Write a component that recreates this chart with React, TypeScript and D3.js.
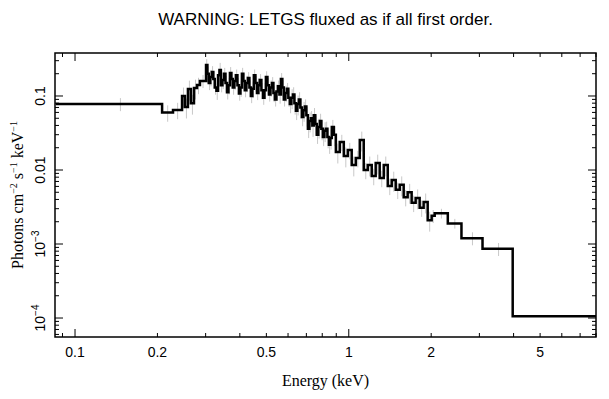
import React from "react";
import * as d3 from "d3";

// Bin edges (keV) and fluxed values (photons cm^-2 s^-1 keV^-1)
const binEdges = [
  0.085, 0.208, 0.228, 0.246, 0.252, 0.2585, 0.265, 0.272, 0.279, 0.286,
  0.301, 0.3045, 0.308, 0.312, 0.316, 0.32, 0.324, 0.3285, 0.333, 0.337,
  0.341, 0.3455, 0.35, 0.3545, 0.359, 0.3635, 0.368, 0.3725, 0.377, 0.382,
  0.387, 0.392, 0.397, 0.402, 0.407, 0.412, 0.417, 0.4225, 0.428, 0.4335,
  0.439, 0.4445, 0.45, 0.456, 0.462, 0.4675, 0.473, 0.4795, 0.486, 0.492,
  0.498, 0.5045, 0.511, 0.5175, 0.524, 0.5305, 0.537, 0.544, 0.551, 0.558,
  0.565, 0.572, 0.579, 0.5865, 0.594, 0.6015, 0.609, 0.617, 0.625, 0.633,
  0.641, 0.649, 0.657, 0.6655, 0.674, 0.6825, 0.691, 0.7, 0.709, 0.718,
  0.727, 0.736, 0.745, 0.7545, 0.764, 0.774, 0.784, 0.794, 0.804, 0.8145,
  0.825, 0.8355, 0.846, 0.8565, 0.867, 0.882, 0.897, 0.927, 0.959, 0.992,
  1.025, 1.061, 1.097, 1.134, 1.173, 1.213, 1.254, 1.297, 1.342, 1.388,
  1.435, 1.484, 1.535, 1.587, 1.641, 1.697, 1.755, 1.815, 1.877, 1.942,
  2.008, 2.06, 2.3, 2.58, 3.08, 3.97, 8.0,
];

const flux = [
  0.078, 0.0598, 0.0647, 0.1, 0.071, 0.124, 0.08, 0.128, 0.141, 0.16,
  0.262, 0.2, 0.15, 0.18, 0.211, 0.17, 0.13, 0.118, 0.19, 0.224,
  0.14, 0.165, 0.2, 0.15, 0.112, 0.14, 0.205, 0.17, 0.13, 0.16,
  0.19, 0.14, 0.108, 0.13, 0.2, 0.16, 0.12, 0.15, 0.175, 0.13,
  0.1, 0.125, 0.19, 0.15, 0.11, 0.14, 0.165, 0.12, 0.095, 0.12,
  0.18, 0.14, 0.105, 0.13, 0.15, 0.11, 0.09, 0.115, 0.135, 0.105,
  0.17, 0.13, 0.09, 0.11, 0.125, 0.095, 0.078, 0.095, 0.105, 0.08,
  0.063, 0.078, 0.09, 0.07, 0.052, 0.064, 0.072, 0.055, 0.036, 0.046,
  0.05, 0.04, 0.055, 0.042, 0.03, 0.038, 0.046, 0.036, 0.028, 0.034,
  0.036, 0.028, 0.022, 0.027, 0.038, 0.03, 0.0175, 0.0239, 0.0155, 0.0186,
  0.0117, 0.0145, 0.0254, 0.01, 0.0117, 0.0083, 0.0124, 0.0078, 0.0117, 0.0061,
  0.0073, 0.0054, 0.0063, 0.0043, 0.005, 0.0036, 0.0042, 0.0031, 0.0037, 0.0021,
  0.0024, 0.0026, 0.0019, 0.0012, 0.00086, 0.000106,
];

const relErr = [
  0.2, 0.25, 0.25, 0.3, 0.3, 0.3, 0.3, 0.3, 0.25, 0.2,
  0.2, 0.25, 0.2, 0.25, 0.2, 0.25, 0.2, 0.25, 0.2, 0.25,
  0.2, 0.25, 0.2, 0.25, 0.2, 0.25, 0.2, 0.25, 0.2, 0.25,
  0.2, 0.25, 0.2, 0.25, 0.2, 0.25, 0.2, 0.25, 0.2, 0.25,
  0.2, 0.25, 0.2, 0.25, 0.2, 0.25, 0.2, 0.25, 0.2, 0.25,
  0.2, 0.25, 0.2, 0.25, 0.2, 0.25, 0.2, 0.25, 0.2, 0.25,
  0.2, 0.25, 0.2, 0.25, 0.2, 0.25, 0.25, 0.3, 0.25, 0.3,
  0.25, 0.3, 0.25, 0.3, 0.25, 0.3, 0.25, 0.3, 0.25, 0.3,
  0.25, 0.3, 0.25, 0.3, 0.25, 0.3, 0.25, 0.3, 0.25, 0.3,
  0.25, 0.3, 0.25, 0.3, 0.25, 0.3, 0.3, 0.25, 0.3, 0.25,
  0.3, 0.25, 0.3, 0.25, 0.3, 0.25, 0.3, 0.25, 0.3, 0.25,
  0.3, 0.25, 0.3, 0.25, 0.3, 0.25, 0.3, 0.25, 0.3, 0.3,
  0.2, 0.15, 0.15, 0.2, 0.2, 0,
];

const xTickValues = [0.1, 0.2, 0.5, 1, 2, 5];
const xTickLabels = ["0.1", "0.2", "0.5", "1", "2", "5"];
const yTickValues = [0.1, 0.01, 0.001, 0.0001];
const yTickBase = ["0.1", "0.01", "10", "10"];
const yTickExp = ["", "", "\u22123", "\u22124"];

const titleText = "WARNING: LETGS fluxed as if all first order.";
const xTitle = "Energy (keV)";

const W = 609;
const H = 399;
const left = 55;
const right = 596;
const top = 53;
const bottom = 337;

export default function App() {
  const x = d3.scaleLog().domain([0.0845, 8.0]).range([left, right]);
  const y = d3.scaleLog().domain([5.54e-5, 0.381]).range([bottom, top]);

  const n = Math.min(flux.length, binEdges.length - 1);
  const pts: [number, number][] = [];
  for (let i = 0; i < n; i++) pts.push([binEdges[i], flux[i]]);
  pts.push([binEdges[n], flux[n - 1]]);
  const line = d3
    .line<[number, number]>()
    .x((d) => x(d[0]))
    .y((d) => y(d[1]))
    .curve(d3.curveStepAfter);

  const [xd0, xd1] = x.domain();
  const xMinor: { v: number; major: boolean }[] = [];
  for (let d = 0.01; d <= 10; d *= 10) {
    for (let k = 1; k <= 9; k++) {
      const v = +(k * d).toPrecision(3);
      if (v >= xd0 && v <= xd1) xMinor.push({ v, major: k === 1 });
    }
  }
  const [yd0, yd1] = y.domain();
  const yMinor: { v: number; major: boolean }[] = [];
  for (let d = 1e-5; d <= 1; d *= 10) {
    for (let k = 1; k <= 9; k++) {
      const v = +(k * d).toPrecision(3);
      if (v >= yd0 && v <= yd1) yMinor.push({ v, major: k === 1 });
    }
  }

  const sans = "'Liberation Sans', Arial, Helvetica, sans-serif";
  const serif = "'Liberation Serif', 'Times New Roman', serif";
  const majLen = 8;
  const minLen = 4;

  return (
    <svg
      width={W}
      height={H}
      style={{ position: "absolute", left: 0, top: 0, background: "#fff" }}
    >
      <rect x={0} y={0} width={W} height={H} fill="#fff" />
      <defs>
        <clipPath id="plotclip">
          <rect x={left} y={top} width={right - left} height={bottom - top} />
        </clipPath>
      </defs>
      <text
        x={(left + right) / 2}
        y={25}
        textAnchor="middle"
        fontFamily={sans}
        fontSize={17}
        fill="#000"
      >
        {titleText}
      </text>

      <g clipPath="url(#plotclip)">
        {flux.slice(0, n).map((v, i) => {
          const r = relErr[i];
          if (!r) return null;
          const cx = x((binEdges[i] + binEdges[i + 1]) / 2);
          return (
            <line
              key={i}
              x1={cx}
              x2={cx}
              y1={y(v * (1 + r))}
              y2={y(v * (1 - r))}
              stroke="#c8c8c8"
              strokeWidth={1}
            />
          );
        })}
        <path d={line(pts) || ""} fill="none" stroke="#000" strokeWidth={2.5} />
      </g>

      <g stroke="#000" strokeWidth={1}>
        {xMinor.map((t, i) => {
          const px = x(t.v);
          const l = t.major ? majLen : minLen;
          return (
            <g key={"xt" + i}>
              <line x1={px} x2={px} y1={bottom} y2={bottom - l} />
              <line x1={px} x2={px} y1={top} y2={top + l} />
            </g>
          );
        })}
        {yMinor.map((t, i) => {
          const py = y(t.v);
          const l = t.major ? majLen : minLen;
          return (
            <g key={"yt" + i}>
              <line x1={left} x2={left + l} y1={py} y2={py} />
              <line x1={right} x2={right - l} y1={py} y2={py} />
            </g>
          );
        })}
      </g>

      <rect
        x={left}
        y={top}
        width={right - left}
        height={bottom - top}
        fill="none"
        stroke="#000"
        strokeWidth={1.5}
      />

      {xTickValues.map((v, i) => (
        <text
          key={"xl" + i}
          x={x(v)}
          y={357}
          textAnchor="middle"
          fontFamily={sans}
          fontSize={14}
          fill="#000"
        >
          {xTickLabels[i]}
        </text>
      ))}

      {yTickValues.map((v, i) => {
        const py = y(v);
        return (
          <text
            key={"yl" + i}
            transform={`translate(45,${py}) rotate(-90)`}
            textAnchor="middle"
            fontFamily={sans}
            fontSize={14}
            fill="#000"
          >
            {yTickBase[i]}
            {yTickExp[i] ? (
              <tspan fontSize={10} dy={-6}>
                {yTickExp[i]}
              </tspan>
            ) : null}
          </text>
        );
      })}

      <text
        x={(left + right) / 2}
        y={386}
        textAnchor="middle"
        fontFamily={serif}
        fontSize={16}
        fill="#000"
      >
        {xTitle}
      </text>

      <text
        transform={`translate(23,195) rotate(-90)`}
        textAnchor="middle"
        fontFamily={serif}
        fontSize={16}
        fill="#000"
      >
        {"Photons cm"}
        <tspan fontSize={10} dy={-6}>{"\u22122"}</tspan>
        <tspan dy={6}>{" s"}</tspan>
        <tspan fontSize={10} dy={-6}>{"\u22121"}</tspan>
        <tspan dy={6}>{" keV"}</tspan>
        <tspan fontSize={10} dy={-6}>{"\u22121"}</tspan>
      </text>
    </svg>
  );
}
